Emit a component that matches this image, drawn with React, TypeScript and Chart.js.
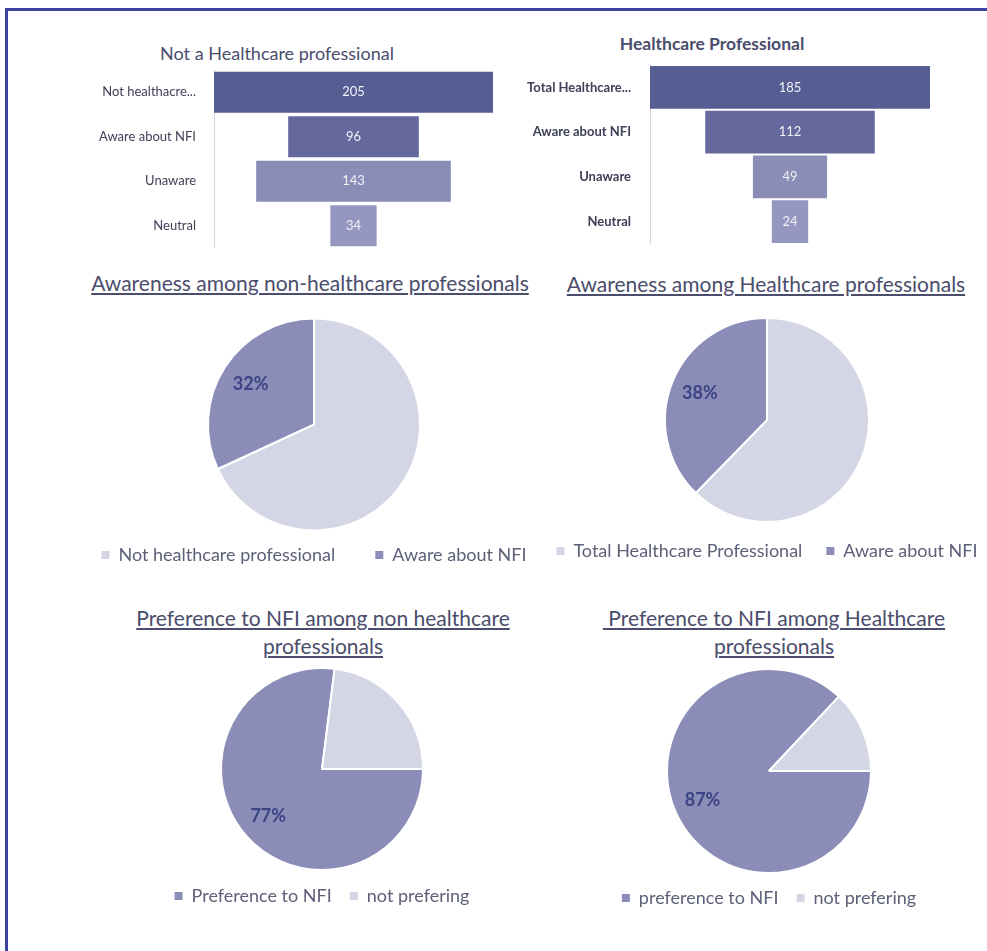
import React, { useEffect, useRef } from "react";
import { Chart, registerables } from "chart.js";

Chart.register(...registerables);

const FONT = "Lato, 'Open Sans', sans-serif";

// ---------- data ----------
const funnel1Title = "Not a Healthcare professional";
const funnel1Labels = ["Not healthacre...", "Aware about NFI", "Unaware", "Neutral"];
const funnel1Values = [205, 96, 143, 34];

const funnel2Title = "Healthcare Professional";
const funnel2Labels = ["Total Healthcare...", "Aware about NFI", "Unaware", "Neutral"];
const funnel2Values = [185, 112, 49, 24];

const funnelColors = ["#555d92", "#65689d", "#8a8db6", "#9597c0"];

const pie1Title = ["Awareness among non-healthcare professionals"];
const pie1Labels = ["Not healthcare professional", "Aware about NFI"];
const pie1Values = [205, 96];

const pie2Title = ["Awareness among Healthcare professionals"];
const pie2Labels = ["Total Healthcare Professional", "Aware about NFI"];
const pie2Values = [185, 112];

const pie3Title = ["Preference to NFI among non healthcare", "professionals"];
const pie3Labels = ["Preference to NFI", "not prefering"];
const pie3Values = [77, 23];

const pie4Title = [" Preference to NFI among Healthcare", "professionals"];
const pie4Labels = ["preference to NFI", "not prefering"];
const pie4Values = [87, 13];

const LIGHT = "#d5d6e5";
const DARK = "#8b8db8";

// ---------- components ----------
type FunnelProps = {
  labels: string[];
  values: number[];
  left: number;
  top: number;
  width: number;
  height: number;
  axisWidth: number;
  tickPadding: number;
  barPct: number;
  bold?: boolean;
};

function Funnel(p: FunnelProps) {
  const ref = useRef<HTMLCanvasElement | null>(null);
  useEffect(() => {
    if (!ref.current) return;
    const half = Math.max(...p.values) / 2;
    const valuePlugin = {
      id: "funnelValues",
      afterDatasetsDraw(chart: any) {
        const ctx = chart.ctx;
        const meta = chart.getDatasetMeta(0);
        ctx.save();
        ctx.font = `13px ${FONT}`;
        ctx.fillStyle = "#f2f2f7";
        ctx.textAlign = "center";
        ctx.textBaseline = "middle";
        meta.data.forEach((bar: any, i: number) => {
          const cx = (bar.x + bar.base) / 2;
          ctx.fillText(String(p.values[i]), cx, bar.y);
        });
        ctx.restore();
      },
    };
    const chart = new Chart(ref.current, {
      type: "bar",
      data: {
        labels: p.labels,
        datasets: [
          {
            data: p.values.map((v) => [-v / 2, v / 2]) as any,
            backgroundColor: funnelColors,
            borderWidth: 0,
            barPercentage: p.barPct,
            categoryPercentage: 1,
          },
        ],
      },
      options: {
        indexAxis: "y",
        animation: false,
        responsive: false,
        events: [],
        layout: { padding: 0 },
        plugins: { legend: { display: false }, tooltip: { enabled: false } },
        scales: {
          x: { display: false, min: -half, max: half },
          y: {
            grid: { display: false },
            border: { display: true, color: "#d4d4dc", width: 1 },
            ticks: {
              padding: p.tickPadding,
              color: "#3e4058",
              font: { family: FONT, size: 13, weight: p.bold ? "bold" : "normal" },
            },
            afterFit: (s: any) => {
              s.width = p.axisWidth;
              s.paddingTop = 0;
              s.paddingBottom = 0;
            },
          },
        },
      } as any,
      plugins: [valuePlugin],
    });
    return () => chart.destroy();
  }, []);
  return (
    <canvas
      ref={ref}
      width={p.width}
      height={p.height}
      style={{ position: "absolute", left: p.left, top: p.top, width: p.width, height: p.height }}
    />
  );
}

type PieProps = {
  labels: string[];
  values: number[];
  colors: string[];
  labelIndex: number;
  rotation: number;
  radius: number;
  left: number;
  top: number;
  width: number;
  height: number;
  padTop: number;
  legendPadding: number;
};

function Pie(p: PieProps) {
  const ref = useRef<HTMLCanvasElement | null>(null);
  useEffect(() => {
    if (!ref.current) return;
    const pctPlugin = {
      id: "pctLabel",
      afterDatasetsDraw(chart: any) {
        const meta = chart.getDatasetMeta(0);
        const arc = meta.data[p.labelIndex];
        if (!arc) return;
        const { x, y, startAngle, endAngle, outerRadius } = arc.getProps(
          ["x", "y", "startAngle", "endAngle", "outerRadius"],
          true
        );
        const total = p.values.reduce((a, b) => a + b, 0);
        const txt = Math.round((p.values[p.labelIndex] / total) * 100) + "%";
        const mid = (startAngle + endAngle) / 2;
        const r = outerRadius * 0.71;
        const ctx = chart.ctx;
        ctx.save();
        ctx.font = `bold 18px ${FONT}`;
        ctx.fillStyle = "#3a4484";
        ctx.textAlign = "center";
        ctx.textBaseline = "middle";
        ctx.fillText(txt, x + Math.cos(mid) * r, y + Math.sin(mid) * r);
        ctx.restore();
      },
    };
    const chart = new Chart(ref.current, {
      type: "pie",
      data: {
        labels: p.labels,
        datasets: [
          {
            data: p.values,
            backgroundColor: p.colors,
            borderColor: "#ffffff",
            borderWidth: 2,
          },
        ],
      },
      options: {
        animation: false,
        responsive: false,
        events: [],
        rotation: p.rotation,
        radius: p.radius,
        layout: { padding: { top: p.padTop, left: 0, right: 0, bottom: 0 } },
        plugins: {
          tooltip: { enabled: false },
          legend: {
            position: "bottom",
            labels: {
              boxWidth: 8,
              boxHeight: 8,
              padding: p.legendPadding,
              color: "#5d6079",
              font: { family: FONT, size: 18 },
              generateLabels: (c: any) =>
                (Chart as any).overrides.pie.plugins.legend.labels
                  .generateLabels(c)
                  .map((l: any) => ({ ...l, lineWidth: 0 })),
            },
          },
        },
      } as any,
      plugins: [pctPlugin],
    });
    return () => chart.destroy();
  }, []);
  return (
    <canvas
      ref={ref}
      width={p.width}
      height={p.height}
      style={{ position: "absolute", left: p.left, top: p.top, width: p.width, height: p.height }}
    />
  );
}

function Title(props: {
  lines: string[];
  cx: number;
  top: number;
  size: number;
  lineHeight: number;
  bold?: boolean;
  underline?: boolean;
}) {
  return (
    <div
      style={{
        position: "absolute",
        left: props.cx - 300,
        width: 600,
        top: props.top,
        textAlign: "center",
        fontFamily: FONT,
        fontSize: props.size,
        lineHeight: props.lineHeight + "px",
        color: "#4a4d6b",
        fontWeight: props.bold ? "bold" : "normal",
        whiteSpace: "pre",
      }}
    >
      {props.lines.map((l, i) => (
        <div key={i}>
          <span style={{ textDecoration: props.underline ? "underline" : "none" }}>{l}</span>
        </div>
      ))}
    </div>
  );
}

export default function App() {
  return (
    <div
      style={{
        position: "absolute",
        left: 0,
        top: 0,
        width: 987,
        height: 951,
        overflow: "hidden",
        background: "#ffffff",
      }}
    >
      <div
        style={{
          position: "absolute",
          left: 5,
          top: 8,
          width: 1200,
          height: 1200,
          borderLeft: "3px solid #3d42a0",
          borderTop: "3px solid #3d42a0",
        }}
      />
      <Title lines={[funnel1Title]} cx={277} top={42} size={18} lineHeight={22} />
      <Title lines={[funnel2Title]} cx={712} top={33} size={17.5} lineHeight={22} bold />
      <Funnel
        labels={funnel1Labels}
        values={funnel1Values}
        left={20}
        top={70}
        width={473}
        height={178}
        axisWidth={194}
        tickPadding={10}
        barPct={0.92}
      />
      <Funnel
        labels={funnel2Labels}
        values={funnel2Values}
        left={460}
        top={65}
        width={470}
        height={179}
        axisWidth={190}
        tickPadding={11}
        barPct={0.95}
        bold
      />

      <Title lines={pie1Title} cx={310} top={271} size={21} lineHeight={24} underline />
      <Title lines={pie2Title} cx={766} top={272} size={21} lineHeight={24} underline />
      <Title lines={pie3Title} cx={323} top={604} size={21} lineHeight={28} underline />
      <Title lines={pie4Title} cx={774} top={604} size={21} lineHeight={28} underline />

      <Pie
        labels={pie1Labels}
        values={pie1Values}
        colors={[LIGHT, DARK]}
        labelIndex={1}
        rotation={0}
        radius={106}
        left={54}
        top={313}
        width={520}
        height={261}
        padTop={30}
        legendPadding={40}
      />
      <Pie
        labels={pie2Labels}
        values={pie2Values}
        colors={[LIGHT, DARK]}
        labelIndex={1}
        rotation={0}
        radius={102}
        left={527}
        top={314}
        width={480}
        height={256}
        padTop={8}
        legendPadding={24}
      />
      <Pie
        labels={pie3Labels}
        values={pie3Values}
        colors={[DARK, LIGHT]}
        labelIndex={0}
        rotation={90}
        radius={101}
        left={112}
        top={664}
        width={420}
        height={251}
        padTop={5}
        legendPadding={18}
      />
      <Pie
        labels={pie4Labels}
        values={pie4Values}
        colors={[DARK, LIGHT]}
        labelIndex={0}
        rotation={90}
        radius={102}
        left={559}
        top={665}
        width={420}
        height={252}
        padTop={6}
        legendPadding={18}
      />
    </div>
  );
}
